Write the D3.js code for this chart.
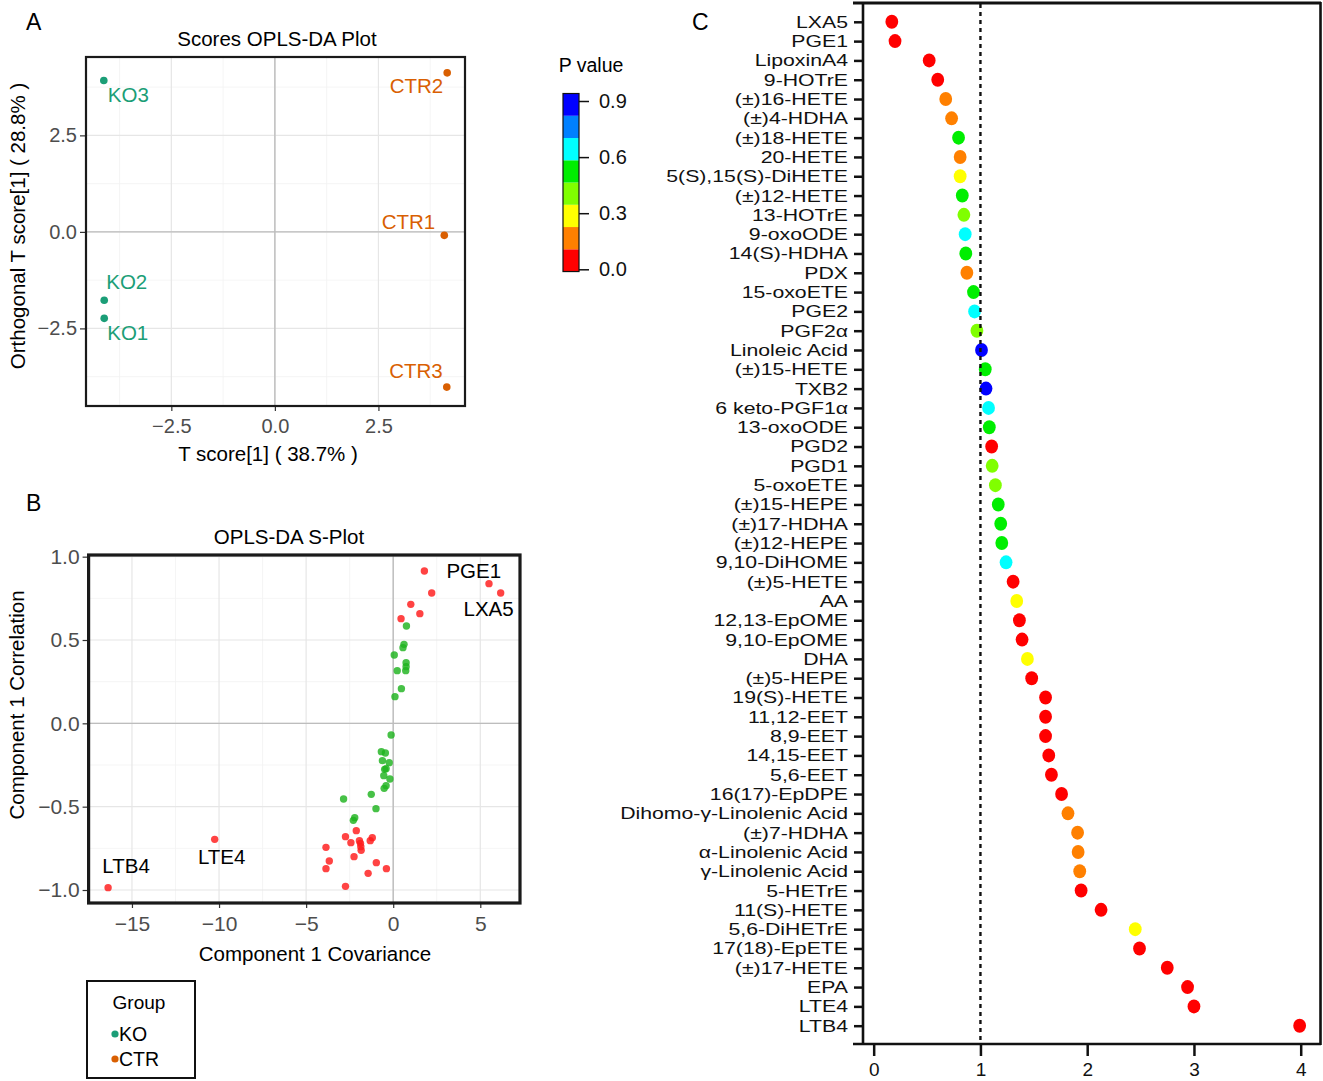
<!DOCTYPE html>
<html>
<head>
<meta charset="utf-8">
<script src="https://cdn.jsdelivr.net/npm/d3@7"></script>
<style>
  body { margin: 0; background: #fff; }
  svg { font-family: "Liberation Sans", Arial, Helvetica, sans-serif; }
</style>
</head>
<body>
<div id="wrapper"></div>
<script>
// ---------- data ----------
// A: OPLS-DA scores
const scoreSamples = ["KO1", "KO2", "KO3", "CTR1", "CTR2", "CTR3"];
const scoreGroups = ["KO", "KO", "KO", "CTR", "CTR", "CTR"];
const scoreT = [-4.12, -4.12, -4.13, 4.09, 4.16, 4.15];
const scoreOrtho = [-2.24, -1.77, 3.92, -0.09, 4.12, -4.02];
const scoreTicks = [-2.5, 0, 2.5];
const groupNames = ["KO", "CTR"];

// B: S-plot (covariance, correlation, significant = 1)
const splotCov = [1.79, 5.50, 6.17, 2.21, 1.01, 1.53, 0.45,
  0.76, 0.62, 0.56, 0.06, 0.74, 0.74, 0.23, 0.72, 0.47, 0.10,
  -0.12, -0.68, -0.45, -0.62, -0.23, -0.49, -0.41, -0.54, -0.19, -0.41, -0.52, -1.26, -2.85, -0.99, -2.21, -2.29,
  -2.12, -2.74, -2.43, -1.94, -1.88, -1.86, -1.84, -1.20, -1.32, -3.86, -3.67, -2.25, -0.97, -3.86, -0.39, -1.44, -2.74,
  -10.25, -16.37];
const splotCorr = [0.914, 0.838, 0.782, 0.782, 0.714, 0.658, 0.628,
  0.584, 0.474, 0.454, 0.41, 0.364, 0.34, 0.316, 0.316, 0.208, 0.16,
  -0.07, -0.17, -0.178, -0.224, -0.236, -0.276, -0.272, -0.314, -0.334, -0.374, -0.39, -0.426, -0.454, -0.512, -0.566, -0.582,
  -0.644, -0.68, -0.716, -0.704, -0.72, -0.74, -0.762, -0.686, -0.704, -0.744, -0.826, -0.80, -0.836, -0.872, -0.872, -0.90, -0.978,
  -0.696, -0.986];
const splotSig = [1, 1, 1, 1, 1, 1, 1,
  0, 0, 0, 0, 0, 0, 0, 0, 0, 0,
  0, 0, 0, 0, 0, 0, 0, 0, 0, 0, 0, 0, 0, 0, 0, 0,
  1, 1, 1, 1, 1, 1, 1, 1, 1, 1, 1, 1, 1, 1, 1, 1, 1,
  1, 1];
const splotLabelNames = ["PGE1", "LXA5", "LTE4", "LTB4"];
const splotLabelIndex = [0, 2, 50, 51];
const covTicks = [-15, -10, -5, 0, 5];
const corrTicks = [-1, -0.5, 0, 0.5, 1];

// C: metabolites, score and P value
const metabolites = ["LXA5", "PGE1", "LipoxinA4", "9-HOTrE", "(±)16-HETE", "(±)4-HDHA", "(±)18-HETE", "20-HETE",
  "5(S),15(S)-DiHETE", "(±)12-HETE", "13-HOTrE", "9-oxoODE", "14(S)-HDHA", "PDX", "15-oxoETE", "PGE2", "PGF2α",
  "Linoleic Acid", "(±)15-HETE", "TXB2", "6 keto-PGF1α", "13-oxoODE", "PGD2", "PGD1", "5-oxoETE", "(±)15-HEPE",
  "(±)17-HDHA", "(±)12-HEPE", "9,10-DiHOME", "(±)5-HETE", "AA", "12,13-EpOME", "9,10-EpOME", "DHA", "(±)5-HEPE",
  "19(S)-HETE", "11,12-EET", "8,9-EET", "14,15-EET", "5,6-EET", "16(17)-EpDPE", "Dihomo-γ-Linolenic Acid",
  "(±)7-HDHA", "α-Linolenic Acid", "γ-Linolenic Acid", "5-HETrE", "11(S)-HETE", "5,6-DiHETrE", "17(18)-EpETE",
  "(±)17-HETE", "EPA", "LTE4", "LTB4"];
const metScore = [0.17, 0.20, 0.52, 0.60, 0.675, 0.73, 0.795, 0.81, 0.81, 0.83, 0.845, 0.857, 0.863, 0.873,
  0.935, 0.945, 0.967, 1.01, 1.045, 1.052, 1.076, 1.083, 1.105, 1.11, 1.14, 1.167, 1.19, 1.20, 1.24, 1.306,
  1.34, 1.365, 1.39, 1.44, 1.48, 1.61, 1.61, 1.61, 1.64, 1.665, 1.76, 1.82, 1.91, 1.915, 1.93, 1.943,
  2.13, 2.45, 2.49, 2.75, 2.94, 3.0, 3.99];
const metPValue = [0.02, 0.03, 0.04, 0.05, 0.15, 0.17, 0.52, 0.16, 0.29, 0.53, 0.41, 0.66, 0.51, 0.18, 0.55,
  0.64, 0.42, 0.91, 0.54, 0.89, 0.63, 0.50, 0.06, 0.40, 0.38, 0.48, 0.52, 0.56, 0.67, 0.04, 0.27, 0.03, 0.05,
  0.30, 0.04, 0.01, 0.02, 0.01, 0.02, 0.03, 0.02, 0.13, 0.14, 0.15, 0.16, 0.06, 0.02, 0.31, 0.01, 0.02, 0.01,
  0.01, 0.002];
const scoreAxisTicks = [0, 1, 2, 3, 4];
const pTicks = [0, 0.3, 0.6, 0.9];
const pColors = ["#ff0000", "#ff8000", "#ffff00", "#80ff00", "#00ee00", "#00ffff", "#0080ff", "#0000ff"];

// ---------- canvas ----------
const svg = d3.select("#wrapper")
  .append("svg")
    .attr("width", 1323)
    .attr("height", 1081);

const groupColor = d3.scaleOrdinal().domain(groupNames).range(["#1b9e77", "#d95f02"]);

// ggplot-like panel: grid, zero lines, axes, border
function drawPanel(xScale, yScale, xTicks, yTicks, fmt, opts) {
  const [x0, x1] = xScale.range();
  const [yb, yt] = yScale.range();
  const g = svg.append("g");
  const halfSteps = (ticks, scale) => {
    const step = ticks[1] - ticks[0];
    const dom = scale.domain();
    return [ticks[0] - step / 2, ...ticks.map(t => t + step / 2)].filter(v => v > dom[0] && v < dom[1]);
  };
  g.selectAll(".vminor").data(halfSteps(xTicks, xScale)).join("line")
    .attr("x1", d => xScale(d)).attr("x2", d => xScale(d)).attr("y1", yt).attr("y2", yb)
    .attr("stroke", "#f2f2f2").attr("stroke-width", 0.8);
  g.selectAll(".hminor").data(halfSteps(yTicks, yScale)).join("line")
    .attr("y1", d => yScale(d)).attr("y2", d => yScale(d)).attr("x1", x0).attr("x2", x1)
    .attr("stroke", "#f2f2f2").attr("stroke-width", 0.8);
  g.selectAll(".vmajor").data(xTicks).join("line")
    .attr("x1", d => xScale(d)).attr("x2", d => xScale(d)).attr("y1", yt).attr("y2", yb)
    .attr("stroke", "#e6e6e6").attr("stroke-width", 1.2);
  g.selectAll(".hmajor").data(yTicks).join("line")
    .attr("y1", d => yScale(d)).attr("y2", d => yScale(d)).attr("x1", x0).attr("x2", x1)
    .attr("stroke", "#e6e6e6").attr("stroke-width", 1.2);
  // zero reference lines
  g.append("line").attr("x1", xScale(0)).attr("x2", xScale(0)).attr("y1", yt).attr("y2", yb)
    .attr("stroke", "#bdbdbd").attr("stroke-width", 1.4);
  g.append("line").attr("y1", yScale(0)).attr("y2", yScale(0)).attr("x1", x0).attr("x2", x1)
    .attr("stroke", "#bdbdbd").attr("stroke-width", 1.4);

  const xAxis = g.append("g")
    .attr("transform", `translate(0,${yb})`)
    .call(d3.axisBottom(xScale).tickValues(xTicks).tickFormat(fmt.x).tickSize(5).tickPadding(8));
  const yAxis = g.append("g")
    .attr("transform", `translate(${x0},0)`)
    .call(d3.axisLeft(yScale).tickValues(yTicks).tickFormat(fmt.y).tickSize(6).tickPadding(3));
  [xAxis, yAxis].forEach(a => {
    a.select(".domain").remove();
    a.selectAll("line").attr("stroke", "#333").attr("stroke-width", 1.2);
    a.selectAll("text").attr("fill", "#4d4d4d").style("font-size", opts.tickFont);
  });

  const border = () => g.append("rect")
    .attr("x", x0).attr("y", yt).attr("width", x1 - x0).attr("height", yb - yt)
    .attr("fill", "none").attr("stroke", "#1a1a1a").attr("stroke-width", opts.borderWidth);
  return { g, border };
}

// ---------- A: scores plot ----------
const xA = d3.scaleLinear().domain([-4.56, 4.59]).range([86, 465]);
const yA = d3.scaleLinear().domain([-4.51, 4.53]).range([406, 57]);
const panelA = drawPanel(xA, yA, scoreTicks, scoreTicks,
  { x: d3.format(".1f"), y: d3.format(".1f") }, { tickFont: "20px", borderWidth: 2.2 });

const scoreData = scoreSamples.map((s, i) => ({
  name: s, group: scoreGroups[i], t: scoreT[i], o: scoreOrtho[i]
}));
panelA.g.selectAll(".score").data(scoreData).join("circle")
  .attr("cx", d => xA(d.t)).attr("cy", d => yA(d.o)).attr("r", 3.8)
  .attr("fill", d => groupColor(d.group));

const scoreNudge = {
  KO1: [3, 14, "start"], KO2: [2, -18, "start"], KO3: [4, 14, "start"],
  CTR1: [-9, -14, "end"], CTR2: [-4, 13, "end"], CTR3: [-4, -16, "end"]
};
panelA.g.selectAll(".scoreLabel").data(scoreData).join("text")
  .attr("x", d => xA(d.t) + scoreNudge[d.name][0])
  .attr("y", d => yA(d.o) + scoreNudge[d.name][1])
  .attr("dy", "0.35em")
  .attr("text-anchor", d => scoreNudge[d.name][2])
  .attr("fill", d => groupColor(d.group))
  .style("font-size", "20.5px")
  .text(d => d.name);
panelA.border();

svg.append("text").attr("x", 277).attr("y", 46).attr("text-anchor", "middle")
  .style("font-size", "20.5px").text("Scores OPLS-DA Plot");
svg.append("text").attr("x", 268).attr("y", 461).attr("text-anchor", "middle")
  .style("font-size", "20.5px").text("T score[1] ( 38.7% )");
svg.append("text").attr("transform", "translate(25,226) rotate(-90)").attr("text-anchor", "middle")
  .style("font-size", "20.5px").text("Orthogonal T score[1] ( 28.8% )");

// ---------- B: S-plot ----------
const xB = d3.scaleLinear().domain([-17.49, 7.28]).range([88.6, 520]);
const yB = d3.scaleLinear().domain([-1.078, 1.01]).range([903, 555]);
const panelB = drawPanel(xB, yB, covTicks, corrTicks,
  { x: d3.format("d"), y: d3.format(".1f") }, { tickFont: "21px", borderWidth: 3.2 });

const splotData = splotCov.map((c, i) => ({ cov: c, corr: splotCorr[i], sig: splotSig[i] }));
panelB.g.selectAll(".sdot").data(splotData).join("circle")
  .attr("cx", d => xB(d.cov)).attr("cy", d => yB(d.corr)).attr("r", 3.7)
  .attr("fill", d => d.sig ? "#ff1a1a" : "#1fb31f")
  .attr("fill-opacity", 0.82);

const splotNudge = { PGE1: [22, 0, "start"], LXA5: [13, 16, "end"], LTE4: [7, 17, "middle"], LTB4: [18, -22, "middle"] };
panelB.g.selectAll(".slabel").data(splotLabelNames).join("text")
  .attr("x", (d, i) => xB(splotCov[splotLabelIndex[i]]) + splotNudge[d][0])
  .attr("y", (d, i) => yB(splotCorr[splotLabelIndex[i]]) + splotNudge[d][1])
  .attr("dy", "0.35em")
  .attr("text-anchor", d => splotNudge[d][2])
  .style("font-size", "20.5px")
  .text(d => d);
panelB.border();

svg.append("text").attr("x", 289).attr("y", 544).attr("text-anchor", "middle")
  .style("font-size", "20.5px").text("OPLS-DA S-Plot");
svg.append("text").attr("x", 315).attr("y", 961).attr("text-anchor", "middle")
  .style("font-size", "20.5px").text("Component 1 Covariance");
svg.append("text").attr("transform", "translate(24,705) rotate(-90)").attr("text-anchor", "middle")
  .style("font-size", "20.5px").text("Component 1 Correlation");

// group legend
const legend = svg.append("g");
legend.append("rect").attr("x", 87).attr("y", 981).attr("width", 108).attr("height", 97)
  .attr("fill", "none").attr("stroke", "#111").attr("stroke-width", 2);
legend.append("text").attr("x", 139).attr("y", 1009).attr("text-anchor", "middle")
  .style("font-size", "19px").text("Group");
legend.selectAll(".key").data(groupNames).join("circle")
  .attr("cx", 115).attr("cy", (d, i) => 1034 + i * 25).attr("r", 3.6)
  .attr("fill", d => groupColor(d));
legend.selectAll(".keyText").data(groupNames).join("text")
  .attr("x", 119).attr("y", (d, i) => 1041 + i * 25)
  .style("font-size", "19.5px").text(d => d);

// ---------- P value colour bar ----------
const pColor = d3.scaleQuantize().domain([-0.012, 0.94]).range(pColors);
const pY = d3.scaleLinear().domain([0, 0.9]).range([269.3, 101]);
const bar = svg.append("g");
bar.selectAll("rect").data(pColors).join("rect")
  .attr("x", 563).attr("width", 16)
  .attr("y", d => pY(pColor.invertExtent(d)[1]))
  .attr("height", d => pY(pColor.invertExtent(d)[0]) - pY(pColor.invertExtent(d)[1]))
  .attr("fill", d => d);
bar.append("rect").attr("x", 563).attr("width", 16)
  .attr("y", pY(0.94)).attr("height", pY(-0.012) - pY(0.94))
  .attr("fill", "none").attr("stroke", "#111").attr("stroke-width", 1.2);
const barAxis = bar.append("g").attr("transform", "translate(579,0)")
  .call(d3.axisRight(pY).tickValues(pTicks).tickFormat(d3.format(".1f")).tickSize(10).tickPadding(10));
barAxis.select(".domain").remove();
barAxis.selectAll("line").attr("stroke", "#111").attr("stroke-width", 1.5);
barAxis.selectAll("text").style("font-size", "20px").attr("fill", "#111");
bar.append("text").attr("x", 591).attr("y", 72).attr("text-anchor", "middle")
  .style("font-size", "19.5px").text("P value");

// ---------- C: dot plot ----------
const xC = d3.scaleLinear().domain([-0.1, 4.19]).range([863, 1321]);
const yC = d3.scalePoint().domain(metabolites).range([2.5, 1045]).padding(1);
const panelC = svg.append("g");

panelC.selectAll(".met").data(metabolites).join("ellipse")
  .attr("cx", (d, i) => xC(metScore[i]))
  .attr("cy", d => yC(d))
  .attr("rx", 6.4).attr("ry", 7)
  .attr("fill", (d, i) => pColor(metPValue[i]));

panelC.append("line")
  .attr("x1", xC(1)).attr("x2", xC(1)).attr("y1", 4).attr("y2", 1043)
  .attr("stroke", "#111").attr("stroke-width", 2.4).attr("stroke-dasharray", "4,4");

const yAxisC = panelC.append("g").attr("transform", "translate(863,0)")
  .call(d3.axisLeft(yC).tickSize(9).tickPadding(6));
const xAxisC = panelC.append("g").attr("transform", "translate(0,1044)")
  .call(d3.axisBottom(xC).tickValues(scoreAxisTicks).tickFormat(d3.format("d")).tickSize(12).tickPadding(7));
[yAxisC, xAxisC].forEach(a => {
  a.select(".domain").remove();
  a.selectAll("line").attr("stroke", "#111").attr("stroke-width", 2.5);
  a.selectAll("text").attr("fill", "#111");
});
// the labels in the figure are drawn wide: a smaller font stretched horizontally
const labelStretch = 1.25;
yAxisC.selectAll("text")
  .style("font-size", "17px")
  .attr("x", -15 / labelStretch)
  .attr("transform", `scale(${labelStretch},1)`);
xAxisC.selectAll("text").style("font-size", "19px");

// frame: left axis, top, right, bottom
panelC.append("line").attr("x1", 863).attr("x2", 863).attr("y1", 2).attr("y2", 1045)
  .attr("stroke", "#111").attr("stroke-width", 2.6);
panelC.append("line").attr("x1", 853).attr("x2", 1321).attr("y1", 3).attr("y2", 3)
  .attr("stroke", "#111").attr("stroke-width", 3);
panelC.append("line").attr("x1", 853).attr("x2", 1321).attr("y1", 1044).attr("y2", 1044)
  .attr("stroke", "#111").attr("stroke-width", 2.6);
panelC.append("line").attr("x1", 1320.5).attr("x2", 1320.5).attr("y1", 2).attr("y2", 1045)
  .attr("stroke", "#111").attr("stroke-width", 2.6);

// panel letters
svg.append("text").attr("x", 26).attr("y", 30).style("font-size", "23px").text("A");
svg.append("text").attr("x", 26).attr("y", 511).style("font-size", "23px").text("B");
svg.append("text").attr("x", 692).attr("y", 30).style("font-size", "23px").text("C");
</script>
</body>
</html>
